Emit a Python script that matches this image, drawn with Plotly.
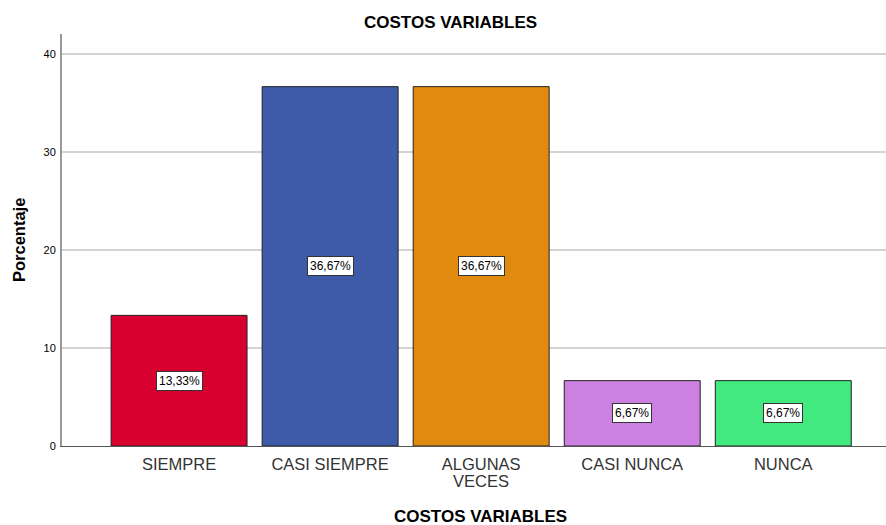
import plotly.graph_objects as go

categories = ["SIEMPRE", "CASI SIEMPRE", "ALGUNAS", "CASI NUNCA", "NUNCA"]
second_line = ["", "", "VECES", "", ""]
values = [13.33, 36.67, 36.67, 6.67, 6.67]
labels = ["13,33%", "36,67%", "36,67%", "6,67%", "6,67%"]
colors = ["#D7002F", "#3E5BA9", "#E08A10", "#CC80E2", "#41E97F"]

fig = go.Figure()
fig.add_trace(go.Bar(
    x=list(range(len(categories))), y=values,
    marker=dict(color=colors, line=dict(color="#222222", width=1)),
    width=0.9, hoverinfo="skip",
))
anns = []
for i, (v, t) in enumerate(zip(values, labels)):
    anns.append(dict(x=i, y=v / 2, text=t, showarrow=False,
                     font=dict(family="Arial, Liberation Sans", size=12, color="#000"),
                     bgcolor="white", bordercolor="#333", borderwidth=1, borderpad=2))
for i, t in enumerate(second_line):
    if t:
        anns.append(dict(x=i, xref="x", y=0, yref="paper", yshift=-35, text=t,
                         showarrow=False, xanchor="center", yanchor="middle",
                         font=dict(size=16.5, color="#333")))
anns += [
    dict(text="<b>COSTOS VARIABLES</b>", xref="paper", yref="paper", x=0.472, y=1,
         yshift=12, xanchor="center", yanchor="middle", showarrow=False,
         font=dict(size=17, color="#000")),
    dict(text="<b>COSTOS VARIABLES</b>", xref="paper", yref="paper", x=0.508, y=0,
         yshift=-70, xanchor="center", yanchor="middle", showarrow=False,
         font=dict(size=17, color="#000")),
    dict(text="<b>Porcentaje</b>", xref="paper", yref="paper", x=0, y=0.5,
         xshift=-43, xanchor="center", yanchor="middle", showarrow=False,
         textangle=-90, font=dict(size=16.5, color="#000")),
]

fig.update_layout(
    width=886, height=525,
    margin=dict(l=62, r=0, t=34, b=79),
    paper_bgcolor="white", plot_bgcolor="white",
    showlegend=False,
    font=dict(family="Arial, Liberation Sans", color="#222"),
    annotations=anns,
)
fig.update_xaxes(
    tickmode="array", tickvals=list(range(len(categories))), ticktext=categories,
    range=[-0.775, 4.68], showgrid=False, zeroline=False,
    showline=True, linecolor="#555", linewidth=1, ticks="",
    tickfont=dict(size=16.5, color="#333"), ticklabelstandoff=3,
)
fig.update_yaxes(
    range=[0, 42.04], tickvals=[0, 10, 20, 30, 40],
    showgrid=True, gridcolor="#D4D4D4", gridwidth=1.5, zeroline=False,
    showline=True, linecolor="#999", linewidth=2, ticks="",
    tickfont=dict(size=11, color="#000"), ticklabelstandoff=2,
)
fig.write_html("out.html", config={"displayModeBar": False},
               post_script="document.body.style.margin='0';")
